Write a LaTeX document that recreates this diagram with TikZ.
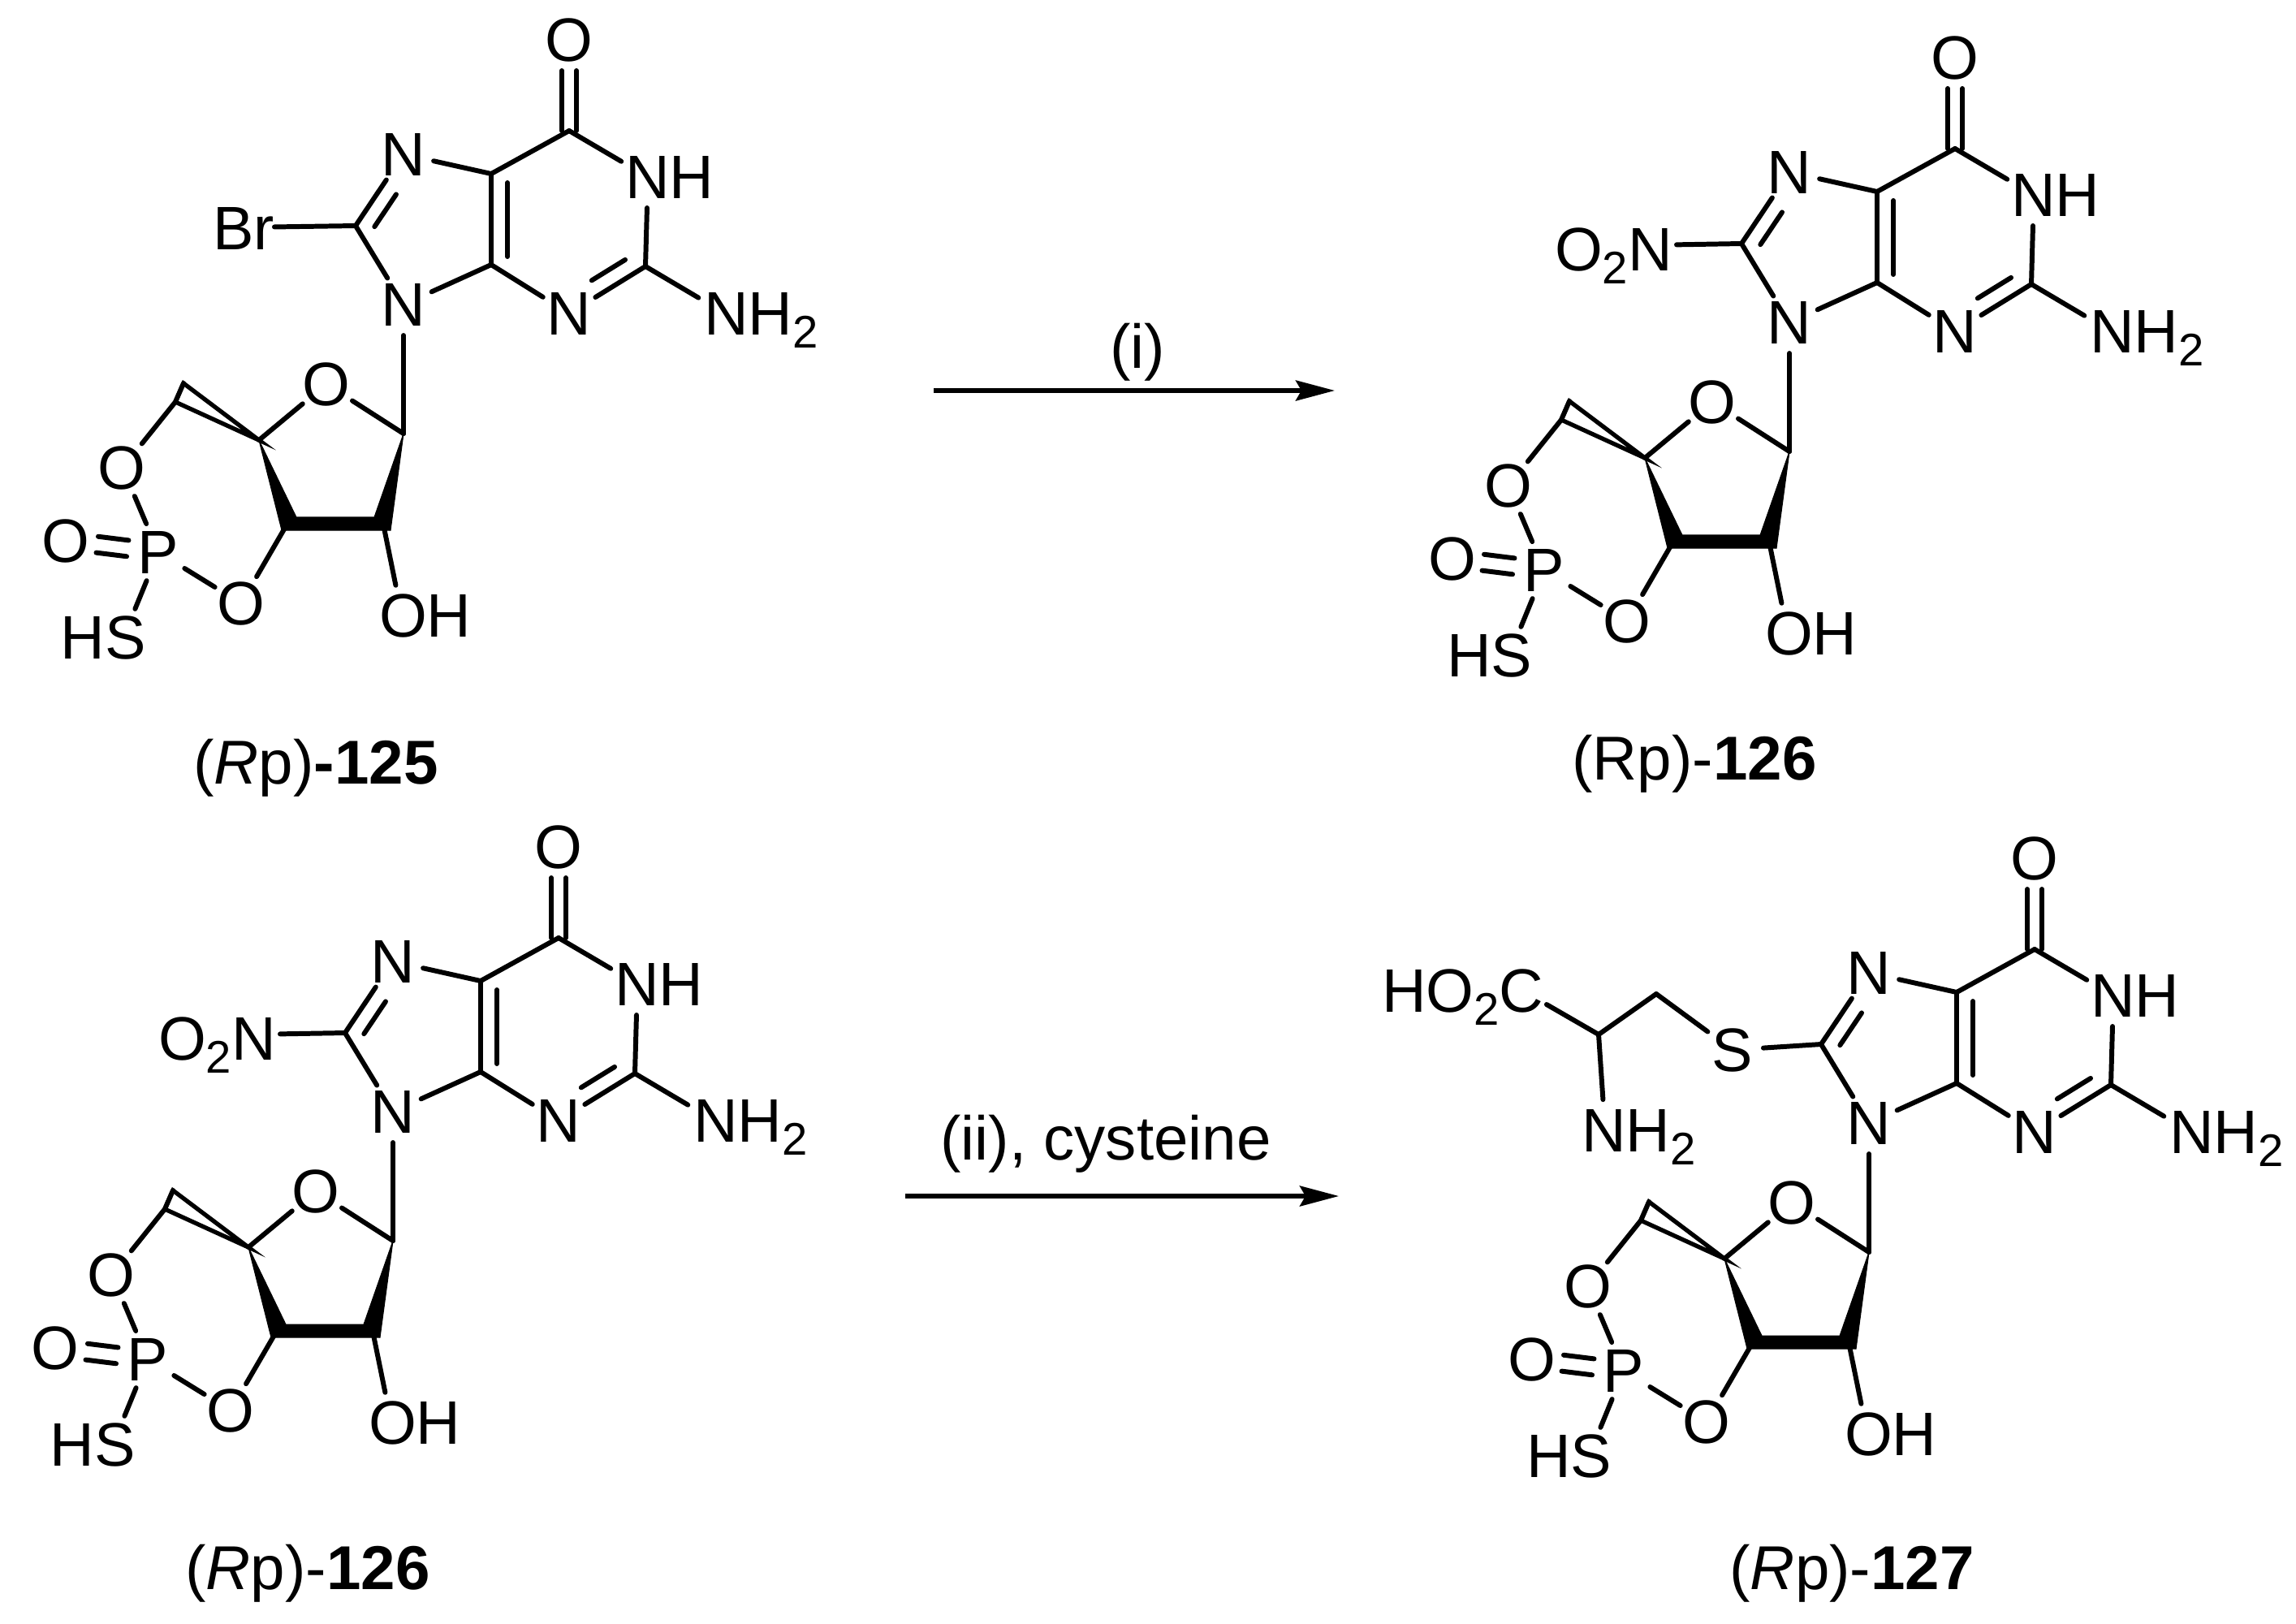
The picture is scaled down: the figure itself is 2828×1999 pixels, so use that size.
\documentclass[tikz,border=0pt]{standalone}
\usepackage{fontspec}
\setmainfont{Liberation Sans}
\usetikzlibrary{calc,arrows.meta}
\newcommand\atomfont{\fontsize{21.5}{25}\selectfont}
\newcommand\labfont{\fontsize{21.7}{26}\selectfont}
\newcommand\subtwo{\raisebox{-0.22em}{\fontsize{16}{18}\selectfont 2}}
\tikzset{
  bond/.style={line width=1.7pt,line cap=round,line join=round},
  site/.style={circle,minimum size=0.76cm,inner sep=0pt,outer sep=0pt},
  lbl/.style={anchor=base west,inner sep=0pt,outer sep=0pt,font=\atomfont,xshift=-0.02cm},
  capt/.style={anchor=base,inner sep=0pt,outer sep=0pt,font=\labfont},
  rxn/.style={line width=1.5pt,-{Stealth[length=0.48cm,width=0.25cm,inset=0.07cm]}},
  hollow/.style={line width=1.5pt,line join=miter,fill=white},
  solid wedge/.style={fill=black,draw=black,line width=0.3pt,line join=round}
}
% inner line of a ring double bond: atoms #1,#2, shortened by #3 and #4
\newcommand\inner[4]{\draw[bond,shorten <=#3,shorten >=#4] ($(#1)!0.2cm!-90:(#2)$) -- ($(#2)!0.2cm!90:(#1)$);}
\newcommand\core{%
  % sites
  \node[site] (o6) at (704,49) {};
  \coordinate (c6) at (704,161);
  \node[site] (n1) at (801,218) {};
  \coordinate (c2) at (798,328);
  \node[site] (nh) at (896,386) {};
  \node[site] (n3) at (704,386) {};
  \coordinate (c4) at (608,326);
  \coordinate (c5) at (608,214);
  \node[site] (n7) at (500,190) {};
  \coordinate (c8) at (441,278);
  \node[site] (n9) at (500,375) {};
  \coordinate (c1p) at (500,534);
  \node[site] (o4p) at (405,473) {};
  \coordinate (c4p) at (322,542);
  \coordinate (c5a) at (229,472);
  \coordinate (c5b) at (219,495);
  \coordinate (c3t) at (464,637);
  \coordinate (c3b) at (484,653);
  \coordinate (c2t) at (368,637);
  \coordinate (c2b) at (350,653);
  \coordinate (c2p) at (354,650);
  \coordinate (c3p) at (476,650);
  \node[site] (oh) at (498,758) {};
  \node[site] (o3p) at (300,743) {};
  \node[site] (p) at (198,680) {};
  \node[site] (o5p) at (154,576) {};
  \node[site] (op) at (85,666) {};
  \node[site] (hs) at (155,785) {};
  % texts
  \node[lbl] (to6) at (676,75) {O};
  \node[lbl] (tn1) at (775,244) {NH};
  \node[lbl] (tnh) at (872,412) {NH\subtwo};
  \node[lbl] (tn3) at (678,412) {N};
  \node[lbl] (tn7) at (474,216) {N};
  \node[lbl] (tn9) at (474,401) {N};
  \node[lbl] (to4p) at (377,499) {O};
  \node[lbl] (toh) at (472,784) {OH};
  \node[lbl] (to3p) at (272,769) {O};
  \node[lbl] (tp) at (174,706) {P};
  \node[lbl] (to5p) at (126,602) {O};
  \node[lbl] (top) at (57,692) {O};
  \node[lbl] (ths) at (80,811) {HS};
  % bonds
  \draw[bond,shorten <=0.38cm] ($(o6)!0.09cm!90:(c6)$) -- ($(c6)!0.09cm!-90:(o6)$);
  \draw[bond,shorten <=0.38cm] ($(o6)!0.09cm!-90:(c6)$) -- ($(c6)!0.09cm!90:(o6)$);
  \draw[bond] (c6) -- (n1);
  \draw[bond] (n1) -- (c2);
  \draw[bond] (c2) -- (n3);
  \inner{c2}{n3}{0.17cm}{0.45cm}
  \draw[bond] (c2) -- (nh);
  \draw[bond] (n3) -- (c4);
  \draw[bond] (c4) -- (c5);
  \inner{c4}{c5}{0.1cm}{0.11cm}
  \draw[bond] (c5) -- (c6);
  \draw[bond] (c5) -- (n7);
  \draw[bond] (n7) -- (c8);
  \inner{c8}{n7}{0.12cm}{0.46cm}
  \draw[bond] (c8) -- (n9);
  \draw[bond] (n9) -- (c4);
  \draw[bond] (n9) -- (c1p);
  \draw[bond] (c1p) -- (o4p);
  \draw[bond] (o4p) -- (c4p);
  \draw[hollow] (c4p) -- (c5a) -- (c5b) -- cycle;
  \draw[bond] (c5a) -- (c5b) -- (o5p);
  \fill[solid wedge] (c4p) -- (c2t) -- (c2b) -- cycle;
  \fill[solid wedge] (c1p) -- (c3t) -- (c3b) -- cycle;
  \fill[solid wedge] (c2b) -- (c2t) -- (c3t) -- (c3b) -- cycle;
  \draw[bond] (c3p) -- (oh);
  \draw[bond] (c2p) -- (o3p);
  \draw[bond] (o3p) -- (p);
  \draw[bond] (o5p) -- (p);
  \draw[bond] (p) -- (hs);
  \draw[bond,shorten <=0.38cm,shorten >=0.38cm] ($(op)!0.1cm!90:(p)$) -- ($(p)!0.1cm!-90:(op)$);
  \draw[bond,shorten <=0.38cm,shorten >=0.38cm] ($(op)!0.1cm!-90:(p)$) -- ($(p)!0.1cm!90:(op)$);
}
\newcommand\nitro{%
  \node[site] (no) at (323,280) {};
  \node[lbl] (tno) at (213,311) {O\subtwo N};
  \draw[bond] (no) -- (c8);
}
\begin{document}
\begin{tikzpicture}[x=0.01cm,y=-0.01cm]
\useasboundingbox (0,0) rectangle (2828,1999);
% molecule 1
\begin{scope}[shift={(-3,0)},name prefix=a-]
  \core
  \node[site] (br) at (303,280) {};
  \node[lbl] (tbr) at (267,307) {Br};
  \draw[bond] (br) -- (c8);
\end{scope}
% molecule 2
\begin{scope}[shift={(1704,22)},name prefix=b-]
  \core
  \nitro
\end{scope}
% molecule 3
\begin{scope}[shift={(-16,994)},name prefix=c-]
  \core
  \nitro
\end{scope}
% molecule 4
\begin{scope}[shift={(1802,1008)},name prefix=d-]
  \core
  \node[site] (s) at (332,285) {};
  \node[lbl] (ts) at (308,311) {S};
  \coordinate (ch2) at (238,216);
  \coordinate (ch) at (167,266);
  \node[site] (co) at (70,210) {};
  \node[lbl] (tco) at (-98,238) {HO\subtwo C};
  \node[site] (nn) at (175,384) {};
  \node[lbl] (tnn) at (148,410) {NH\subtwo};
  \draw[bond] (c8) -- (s);
  \draw[bond] (s) -- (ch2);
  \draw[bond] (ch2) -- (ch);
  \draw[bond] (ch) -- (co);
  \draw[bond] (ch) -- (nn);
\end{scope}
% captions
\node[capt] (cap1) at (389,965) {(\textit{R}p)\textbf{-125}};
\node[capt] (cap2) at (2087,960) {(Rp)-\textbf{126}};
\node[capt] (cap3) at (379,1957) {(\textit{R}p)-\textbf{126}};
\node[capt] (cap4) at (2281,1957) {(\textit{R}p)-\textbf{127}};
% arrows
\coordinate (r1s) at (1150,481);
\coordinate (r1e) at (1644,481);
\coordinate (r2s) at (1115,1473);
\coordinate (r2e) at (1649,1473);
\draw[rxn] (r1s) -- (r1e);
\draw[rxn] (r2s) -- (r2e);
\node[capt] (l1) at (1401,453) {(i)};
\node[capt] (l2) at (1362,1428) {(ii), cysteine};
\end{tikzpicture}
\end{document}
